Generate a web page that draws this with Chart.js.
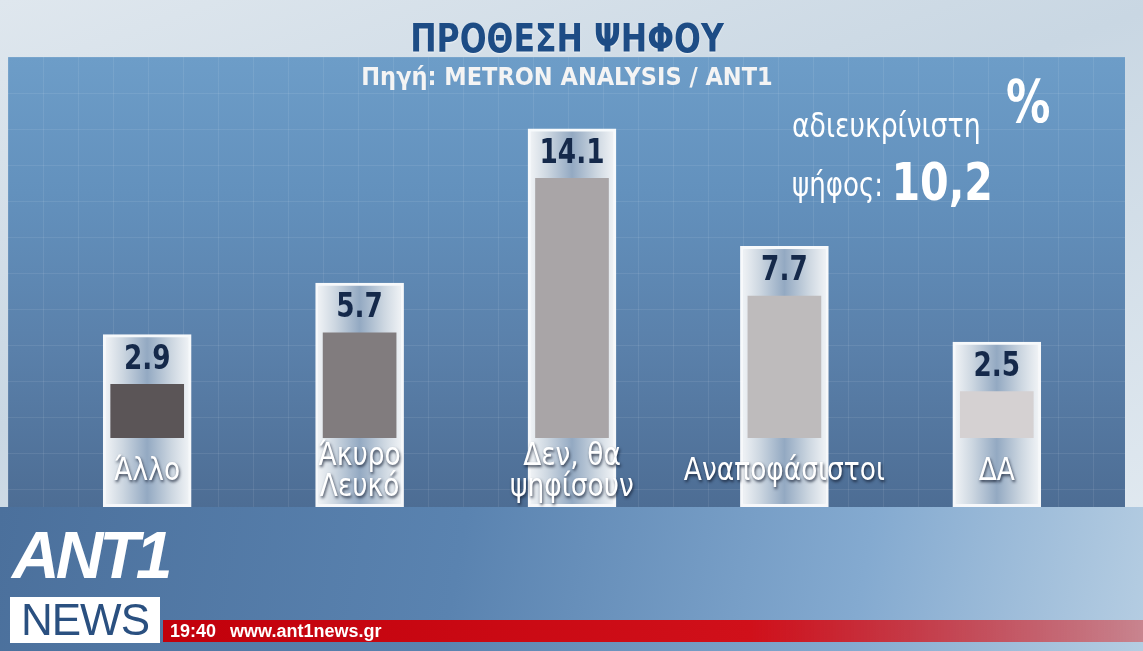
<!DOCTYPE html>
<html lang="el">
<head>
<meta charset="UTF-8">
<title>ΠΡΟΘΕΣΗ ΨΗΦΟΥ</title>
<script src="https://cdn.jsdelivr.net/npm/chart.js"></script>
<style>
    body { margin: 0; font-family: "DejaVu Sans Condensed", "Liberation Sans", Arial, sans-serif; }
    #stage {
        position: relative; width: 1143px; height: 651px; overflow: hidden;
        background: linear-gradient(160deg, #dfe7ee 0%, #c9d7e3 40%, #e6edf3 100%);
    }
    #panel {
        position: absolute; left: 8px; top: 57px; width: 1117px; height: 450px;
        background:
            repeating-linear-gradient(90deg, rgba(255,255,255,0.08) 0 1px, transparent 1px 35px),
            repeating-linear-gradient(180deg, rgba(255,255,255,0.08) 0 1px, transparent 1px 36px),
            linear-gradient(180deg, #6d9dc8 0%, #6391bd 30%, #5a80aa 65%, #4d6d94 100%);
    }
    #floor {
        position: absolute; left: 0; top: 507px; width: 1143px; height: 144px;
        background: linear-gradient(100deg, #4b709c 0%, #5a83b0 40%, #84aad0 75%, #b5cde2 100%);
    }
    .chart-box { position: absolute; left: 0; top: 0; width: 1143px; height: 651px; }
    .txt { position: absolute; white-space: nowrap; }
    #title { left: 0; width: 1134px; top: 16px; text-align: center; font-weight: bold; font-size: 39px; color: #1d4c85; transform: scaleX(0.9); text-shadow: 0 1px 2px rgba(255,255,255,0.6); }
    #source { left: 0; width: 1134px; top: 62px; text-align: center; font-weight: bold; font-size: 25px; color: #f4f4f4; }
    #pct { left: 1006px; top: 68px; font-weight: bold; font-size: 58px; color: #fff; transform: scaleX(0.85); transform-origin: left; }
    #undec1 { left: 792px; top: 106px; font-size: 33px; color: #fff; transform: scaleX(0.9); transform-origin: left; }
    #undec2 { left: 792px; top: 148px; font-size: 33px; color: #fff; transform: scaleX(0.88); transform-origin: left; }
    #undec2 b { font-size: 52px; position: relative; top: 4px; }
    #logo { left: 12px; top: 517px; width: 150px; font-style: italic; font-weight: bold; font-size: 66px; color: #fff; letter-spacing: -4px; font-family: "Liberation Sans", Arial, sans-serif; }
    #news { left: 10px; top: 597px; width: 150px; height: 46px; background: #fff; color: #2a5080; font-size: 44px; line-height: 46px; text-align: center; font-family: "Liberation Sans", Arial, sans-serif; letter-spacing: -1px; }
    #ticker { left: 163px; top: 620px; width: 980px; height: 22px; background: linear-gradient(90deg, #c2000b 0%, #d0101a 60%, rgba(220,60,60,0.5) 100%); color: #fff; font-weight: bold; font-size: 18px; line-height: 22px; font-family: "Liberation Sans", Arial, sans-serif; }
    #ticker span { margin-left: 7px; margin-right: 14px; }
</style>
</head>
<body>
<div id="stage">
    <div id="panel"></div>
    <div id="floor"></div>
    <div class="chart-box"><canvas id="voteChart"></canvas></div>
    <div class="txt" id="title">ΠΡΟΘΕΣΗ ΨΗΦΟΥ</div>
    <div class="txt" id="source">Πηγή: METRON ANALYSIS / ANT1</div>
    <div class="txt" id="pct">%</div>
    <div class="txt" id="undec1">αδιευκρίνιστη</div>
    <div class="txt" id="undec2">ψήφος: <b>10,2</b></div>
    <div class="txt" id="logo">ANT1</div>
    <div class="txt" id="news">NEWS</div>
    <div class="txt" id="ticker"><span>19:40</span>www.ant1news.gr</div>
</div>

<script>
    // chart data
    const categories = [["Άλλο"], ["Άκυρο", "Λευκό"], ["Δεν, θα", "ψηφίσουν"], ["Αναποφάσιστοι"], ["ΔΑ"]];
    const values = [2.9, 5.7, 14.1, 7.7, 2.5];
    const valueLabels = ["2.9", "5.7", "14.1", "7.7", "2.5"];
    const barColors = ["#5b5557", "#817c7e", "#a9a5a7", "#bebbbc", "#d5d1d2"];

    // the white frame reaches below zero (label area) and above the value (number area)
    const frameBelow = -3.75;
    const frameAbove = 2.7;

    function frameFill(context) {
        const chart = context.chart;
        if (!chart.chartArea) return "#c8d2dd";
        const x = chart.scales.x.getPixelForValue(context.dataIndex);
        const g = chart.ctx.createLinearGradient(x - 44, 0, x + 44, 0);
        g.addColorStop(0, "#f4f6f8");
        g.addColorStop(0.22, "#cdd7e1");
        g.addColorStop(0.5, "#93a9c2");
        g.addColorStop(0.78, "#cdd7e1");
        g.addColorStop(1, "#f4f6f8");
        return g;
    }

    function narrowText(ctx, text, x, y, sx) {
        ctx.save();
        ctx.translate(x, y);
        ctx.scale(sx, 1);
        ctx.fillText(text, 0, 0);
        ctx.restore();
    }

    const labelPlugin = {
        id: "barLabels",
        afterDatasetsDraw(chart) {
            const ctx = chart.ctx;
            const frames = chart.getDatasetMeta(0).data;
            const zeroY = chart.scales.y.getPixelForValue(0);
            ctx.save();
            ctx.textAlign = "center";
            ctx.textBaseline = "middle";
            frames.forEach((bar, i) => {
                ctx.fillStyle = "#15294a";
                ctx.font = "bold 34px 'DejaVu Sans Condensed', sans-serif";
                narrowText(ctx, valueLabels[i], bar.x, bar.y + 25, 0.86);

                const lines = categories[i];
                ctx.font = "32px 'DejaVu Sans Condensed', sans-serif";
                ctx.fillStyle = "#ffffff";
                ctx.shadowColor = "rgba(20,30,50,0.8)";
                ctx.shadowOffsetX = 1;
                ctx.shadowOffsetY = 2;
                ctx.shadowBlur = 3;
                const start = lines.length === 1 ? zeroY + 34 : zeroY + 19;
                lines.forEach((line, j) => narrowText(ctx, line, bar.x, start + j * 31, 0.92));
                ctx.shadowColor = "transparent";
            });
            ctx.restore();
        }
    };

    const ctx = document.getElementById("voteChart").getContext("2d");
    const voteChart = new Chart(ctx, {
        type: "bar",
        data: {
            labels: categories,
            datasets: [
                {
                    label: "frame",
                    data: values.map(v => [frameBelow, v + frameAbove]),
                    backgroundColor: frameFill,
                    borderColor: "rgba(255,255,255,0.95)",
                    borderWidth: 3,
                    borderSkipped: false,
                    barThickness: 88,
                    grouped: false,
                    order: 2
                },
                {
                    label: "%",
                    data: values,
                    backgroundColor: barColors,
                    borderWidth: 0,
                    barThickness: 73,
                    grouped: false,
                    order: 1
                }
            ]
        },
        options: {
            responsive: true,
            maintainAspectRatio: false,
            animation: false,
            layout: { padding: { left: 41, right: 40, top: 0, bottom: 0 } },
            plugins: { legend: { display: false }, tooltip: { enabled: false } },
            scales: {
                x: { display: false, offset: true },
                y: { display: false, min: -11.6, max: 23.8 }
            }
        },
        plugins: [labelPlugin]
    });
</script>
</body>
</html>
